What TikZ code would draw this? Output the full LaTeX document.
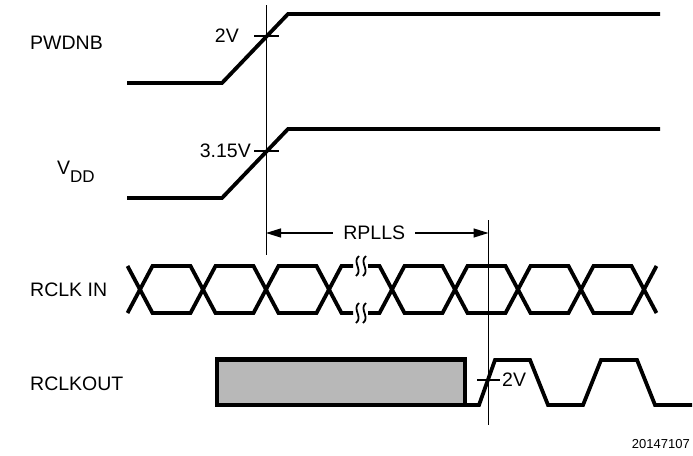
\documentclass[tikz,border=0pt]{standalone}
\usepackage{fontspec}
\setmainfont{Liberation Sans}
\usetikzlibrary{arrows.meta}
\begin{document}
\begin{tikzpicture}[x=1pt,y=-1pt,
  sig/.style={line width=3.8pt,line join=miter},
  thin/.style={line width=1pt},
  tick/.style={line width=1.2pt},
  lbl/.style={font=\fontsize{19.5}{22}\selectfont,inner sep=0pt},
  sq/.style={line width=1.8pt},
  dim/.style={line width=1.3pt,{Triangle[length=15pt,width=9pt]}-{Triangle[length=15pt,width=9pt]}}]
\useasboundingbox (0,0) rectangle (693,455);
% labels
\node[lbl,anchor=west] (lpw) at (30,43) {PWDNB};
\node[lbl,anchor=west] (lvdd) at (57,172) {V\raisebox{-8pt}{\fontsize{17}{19}\selectfont DD}};
\node[lbl,anchor=west] (lrin) at (30,290) {RCLK IN};
\node[lbl,anchor=west] (lrout) at (30,384) {RCLKOUT};
% vertical reference lines
\coordinate (vlt) at (266,5);
\coordinate (vlb) at (266,255);
\coordinate (vrt) at (488.5,220);
\coordinate (vrb) at (488.5,425);
\draw[thin] (vlt) -- (vlb);
\draw[thin] (vrt) -- (vrb);
% PWDNB
\draw[sig] (127,83) -- (222,83) -- (288,14) -- (660,14);
\draw[tick] (254,36) -- (279,36);
\node[lbl,anchor=east] (t2v) at (239,36) {2V};
% VDD
\draw[sig] (127,198) -- (222,198) -- (288,129) -- (660,129);
\draw[tick] (254,151) -- (279,151);
\node[lbl,anchor=east] (t315) at (251,151) {3.15V};
% RPLLS
\coordinate (al) at (266,233);
\coordinate (ar) at (488.5,233);
\draw[dim] (al) -- (ar) node[midway,fill=white,inner xsep=10pt,inner ysep=2pt,font=\fontsize{19.5}{22}\selectfont,xshift=-3pt] (rp) {RPLLS};
% RCLK IN
\draw[sig] (127.5,266) -- (152.5,313) -- (190.5,313) -- (215.5,266) -- (253.5,266) -- (278.5,313) -- (316.5,313) -- (341.5,266) -- (353,266);
\draw[sig] (127.5,313) -- (152.5,266) -- (190.5,266) -- (215.5,313) -- (253.5,313) -- (278.5,266) -- (316.5,266) -- (341.5,313) -- (353,313);
\draw[sig] (368,266) -- (379.5,266) -- (404.5,313) -- (442.5,313) -- (467.5,266) -- (505.5,266) -- (530.5,313) -- (568.5,313) -- (593.5,266) -- (631.5,266) -- (656.5,313);
\draw[sig] (368,313) -- (379.5,313) -- (404.5,266) -- (442.5,266) -- (467.5,313) -- (505.5,313) -- (530.5,266) -- (568.5,266) -- (593.5,313) -- (631.5,313) -- (656.5,266);
\foreach \x in {357.5,364.5}{
  \foreach \y in {266,313}{
    \draw[sq] (\x+1.5,\y-10) .. controls (\x-6,\y-4) and (\x+6,\y+4) .. (\x-1.5,\y+10);
  }
}
% RCLKOUT
\draw[line width=4.5pt,fill=black!28] (217,359.5) rectangle (465,405);
\draw[sig] (465,405) -- (479,405) -- (495,360) -- (530,360) -- (548,405) -- (583,405) -- (601,360) -- (637,360) -- (655,405) -- (692,405);
\draw[tick] (477,380) -- (500,380);
\node[lbl,anchor=west] (b2v) at (502,380) {2V};
\node[font=\fontsize{13}{15}\selectfont,inner sep=0pt,anchor=east] (fig) at (690,444) {20147107};
\end{tikzpicture}
\end{document}
